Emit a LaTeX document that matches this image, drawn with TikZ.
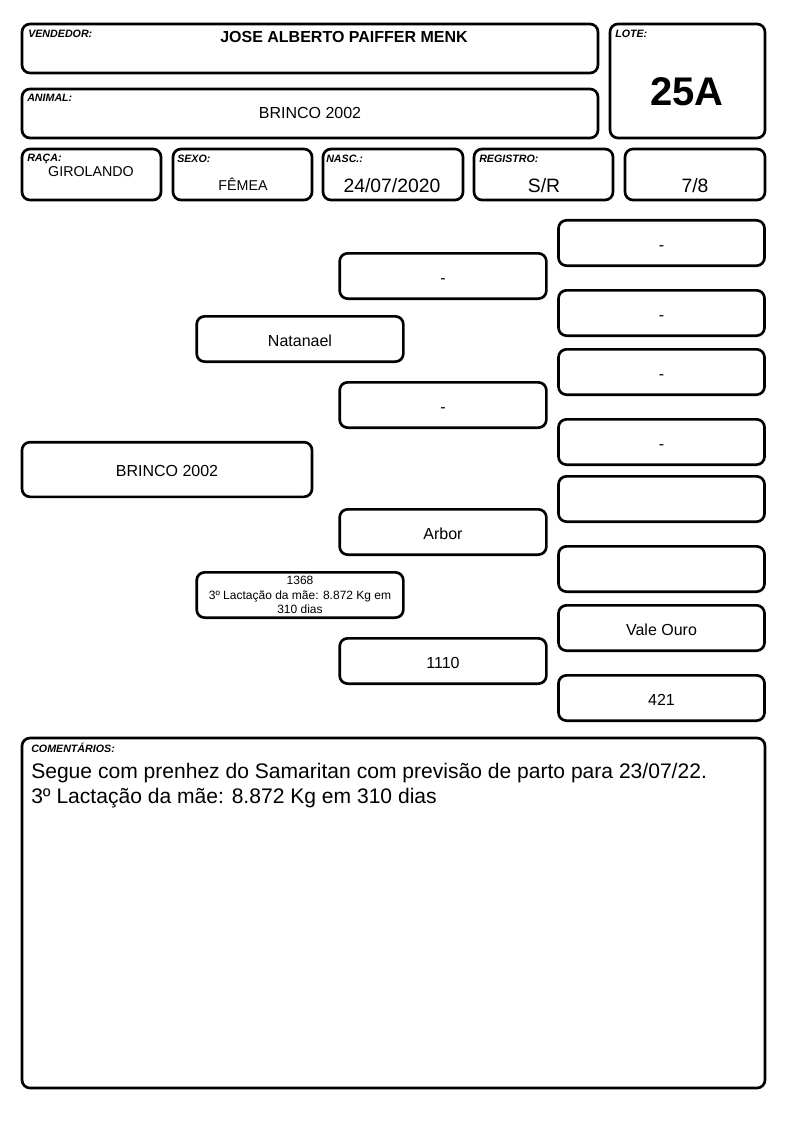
\documentclass[tikz,border=0pt]{standalone}
\usepackage{fontspec}
\setmainfont{Liberation Sans}
\begin{document}
\begin{tikzpicture}[x=0.75pt, y=-0.75pt, line join=round, line cap=round,
		box/.style={draw, line width=2pt, rounded corners=6pt},
		tag/.style={font=\fontsize{8}{9}\selectfont\bfseries\itshape, anchor=base west, inner sep=0pt},
		val/.style={font=\fontsize{14.5}{16}\selectfont, inner sep=0pt},
		ped/.style={box, minimum width=155pt, minimum height=34pt, inner sep=2pt, text height=10.5pt, text depth=0pt, font=\fontsize{12}{14}\selectfont},
		wide/.style={ped, minimum width=154.5pt}]
	\useasboundingbox (0,0) rectangle (794,1123);
	% Cabeçalho
	\draw[box] (22,24) rectangle (598,73);
	\draw[box] (610,24) rectangle (765,138);
	\draw[box] (22,89) rectangle (598,138);
	\draw[box] (22,149) rectangle (161,200);
	\draw[box] (173,149) rectangle (312,200);
	\draw[box] (323,149) rectangle (463,200);
	\draw[box] (474,149) rectangle (613,200);
	\draw[box] (625,149) rectangle (765,200);
	\node[tag] (vendedor) at (28,38) {VENDEDOR:};
	\node[tag] (lote) at (615,38) {LOTE:};
	\node[tag] (animal) at (27,102) {ANIMAL:};
	\node[tag] (raca) at (27,162) {RAÇA:};
	\node[tag] (sexo) at (177,163) {SEXO:};
	\node[tag] (nasc) at (326,163) {NASC.:};
	\node[tag] (registro) at (479,163) {REGISTRO:};
	\node[font=\fontsize{12}{14}\selectfont\bfseries, inner sep=0pt] (nomevend) at (344,37) {JOSE ALBERTO PAIFFER MENK};
	\node[font=\fontsize{30}{32}\selectfont\bfseries, inner sep=0pt] (numlote) at (687,92) {25A};
	\node[font=\fontsize{12}{14}\selectfont, inner sep=0pt] (nomeanim) at (310,113) {BRINCO 2002};
	\node[font=\fontsize{10.7}{12}\selectfont, inner sep=0pt] (vraca) at (91,172) {GIROLANDO};
	\node[font=\fontsize{10.7}{12}\selectfont, inner sep=0pt] (vsexo) at (243,184) {FÊMEA};
	\node[val] (vnasc) at (392,186) {24/07/2020};
	\node[val] (vreg) at (544,186) {S/R};
	\node[val] (vgrau) at (695,186) {7/8};
	% Genealogia
	\node[ped, minimum width=217.5pt, minimum height=41pt] (filho) at (167,469.5) {BRINCO 2002};
	\node[ped] (pai) at (300,339) {Natanael};
	\node[ped, align=center, text height=, text depth=, font=\fontsize{9}{11}\selectfont, inner sep=0pt] (mae) at (300,595) {1368\\3º Lactação da mãe: 8.872 Kg em\\310 dias};
	\node[ped] (avopp) at (443,276) {-};
	\node[ped] (avopm) at (443,405) {-};
	\node[ped] (avomp) at (443,532) {Arbor};
	\node[ped] (avomm) at (443,661) {1110};
	\node[wide] (bis1) at (661.5,243) {-};
	\node[wide] (bis2) at (661.5,313) {-};
	\node[wide] (bis3) at (661.5,372) {-};
	\node[wide] (bis4) at (661.5,442) {-};
	\node[wide] (bis5) at (661.5,499) {};
	\node[wide] (bis6) at (661.5,569) {};
	\node[wide] (bis7) at (661.5,628) {Vale Ouro};
	\node[wide] (bis8) at (661.5,698) {421};
	% Comentários
	\draw[box] (22,738) rectangle (765,1088);
	\node[tag] (coment) at (31,752) {COMENTÁRIOS:};
	\node[anchor=north west, align=left, inner sep=0pt, font=\fontsize{15.8}{19}\selectfont] (texto) at (31,763) {Segue com prenhez do Samaritan com previsão de parto para 23/07/22.\\3º Lactação da mãe: 8.872 Kg em 310 dias};
\end{tikzpicture}
\end{document}
